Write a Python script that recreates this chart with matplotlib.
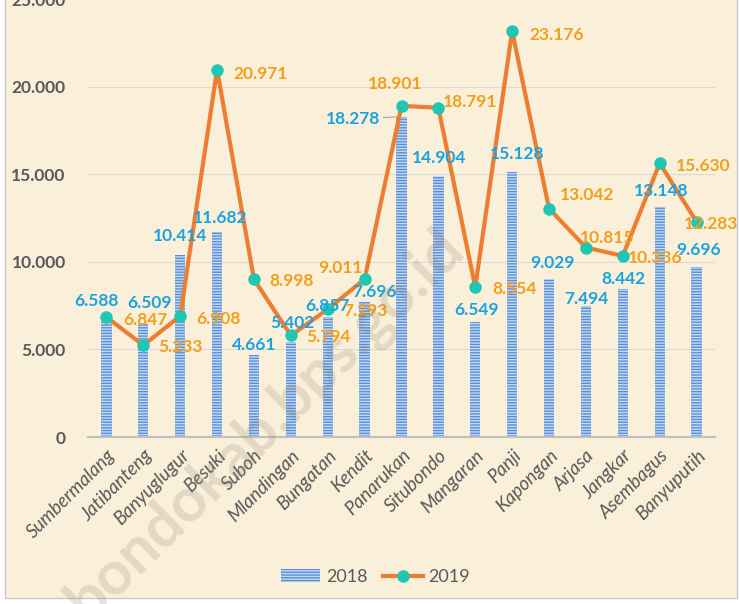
import matplotlib.pyplot as plt
from matplotlib.patches import Rectangle, Patch
from matplotlib.lines import Line2D

kecamatan = ['Sumbermalang', 'Jatibanteng', 'Banyuglugur', 'Besuki', 'Suboh',
             'Mlandingan', 'Bungatan', 'Kendit', 'Panarukan', 'Situbondo',
             'Mangaran', 'Panji', 'Kapongan', 'Arjasa', 'Jangkar',
             'Asembagus', 'Banyuputih']
nilai_2018 = [6588, 6509, 10414, 11682, 4661, 5402, 6857, 7696, 18278, 14904,
              6549, 15128, 9029, 7494, 8442, 13148, 9696]
nilai_2019 = [6847, 5233, 6908, 20971, 8998, 5794, 7293, 9011, 18901, 18791,
              8554, 23176, 13042, 10815, 10336, 15630, 12283]

# label offsets (pixels) copied from the original placement
off_2018 = [(-10, 21), (6, 20), (0, 19), (3, 14), (0, 10), (1, 19), (0, 11),
            (10, 10), (-48, -2), (1, 18), (1, 12), (5, 18), (3, 16), (0, 7),
            (1, 10), (1, 16), (2, 17)]
off_2019 = [(39, -3), (37, -2), (38, -3), (43, -4), (38, -2), (38, -2), (38, -2),
            (-24, 11), (-6, 22), (32, 6), (39, -2), (44, -4), (38, 14), (21, 10),
            (32, -2), (44, -3), (15, -2)]
leader_2018 = {8}
leader_2019 = {8}

BIRU = '#1AA3E0'
ORANYE = '#F0A01E'
ABU = '#595959'

plt.rcParams['font.family'] = ['Lato', 'DejaVu Sans']
plt.rcParams['hatch.linewidth'] = 1.0


def fmt(v):
    return f'{v:,.0f}'.replace(',', '.')


fig = plt.figure(figsize=(7.39, 6.04), dpi=100, facecolor='white')
fig.patches.append(Rectangle((5 / 739, 6 / 604), 732 / 739, 1.0, transform=fig.transFigure,
                             facecolor='#FAF0DA', edgecolor='#C8C8C8', linewidth=1.0, zorder=-10))

ax = fig.add_axes([88 / 739, 1 - 437 / 604, 627 / 739, 438 / 604])
ax.set_facecolor('none')

x = list(range(len(kecamatan)))
ax.bar(x, nilai_2018, width=0.28, color='#5A8ED6', edgecolor='#C3DAF5', linewidth=0,
       hatch='------', zorder=2)
ax.plot(x, nilai_2019, color='#ED7D31', linewidth=3, marker='o', markersize=8,
        markerfacecolor='#1FC7B2', markeredgecolor='#1FC7B2', zorder=3)

for i, v in enumerate(nilai_2018):
    arrow = dict(arrowstyle='-', color='#A0A0A0', lw=0.8, shrinkA=22, shrinkB=2) if i in leader_2018 else None
    ax.annotate(fmt(v), (i, v), xytext=off_2018[i], textcoords='offset pixels',
                ha='center', va='center', color=BIRU, fontsize=12.5, fontweight='bold',
                arrowprops=arrow, zorder=4)

for i, v in enumerate(nilai_2019):
    arrow = dict(arrowstyle='-', color='#A0A0A0', lw=0.8, shrinkA=8, shrinkB=5) if i in leader_2019 else None
    ax.annotate(fmt(v), (i, v), xytext=off_2019[i], textcoords='offset pixels',
                ha='center', va='center', color=ORANYE, fontsize=12.5, fontweight='bold',
                arrowprops=arrow, zorder=4)

ax.set_xlim(-0.5, len(kecamatan) - 0.5)
ax.set_ylim(0, 25000)
ax.set_yticks(range(0, 25001, 5000))
ax.set_yticklabels([fmt(t) for t in range(0, 25001, 5000)])
ax.set_xticks(x)
ax.set_xticklabels(kecamatan, rotation=45, ha='right', rotation_mode='anchor',
                   fontstyle='italic', fontsize=13.5, color=ABU)
ax.tick_params(axis='y', length=0, pad=16, labelsize=12.5, labelcolor=ABU)
ax.tick_params(axis='x', length=0, pad=7)
for lbl in ax.get_yticklabels():
    lbl.set_fontweight('bold')

ax.grid(axis='y', color='#D9D9D9', linewidth=0.8, zorder=0)
ax.set_axisbelow(True)
for s in ['top', 'right', 'left']:
    ax.spines[s].set_visible(False)
ax.spines['bottom'].set_color('#BFBFBF')
ax.spines['bottom'].set_linewidth(1.5)

handles = [Patch(facecolor='#5A8ED6', edgecolor='#C3DAF5', hatch='------', linewidth=0),
           Line2D([], [], color='#ED7D31', linewidth=3, marker='o', markersize=8,
                  markerfacecolor='#1FC7B2', markeredgecolor='#1FC7B2')]
fig.legend(handles, ['2018', '2019'], loc='center', bbox_to_anchor=(0.508, 0.045), ncol=2,
           frameon=False, fontsize=13, labelcolor=ABU, handlelength=2.2, columnspacing=0.9,
           handletextpad=0.3)

fig.text(265 / 739, 1 - 425 / 604, 'bondokab.bps.go.id', rotation=44.5, ha='center', va='center',
         fontsize=44, fontweight='bold', color='#8C8270', alpha=0.22, zorder=10)

fig.savefig('out.png', dpi=100, facecolor=fig.get_facecolor())
